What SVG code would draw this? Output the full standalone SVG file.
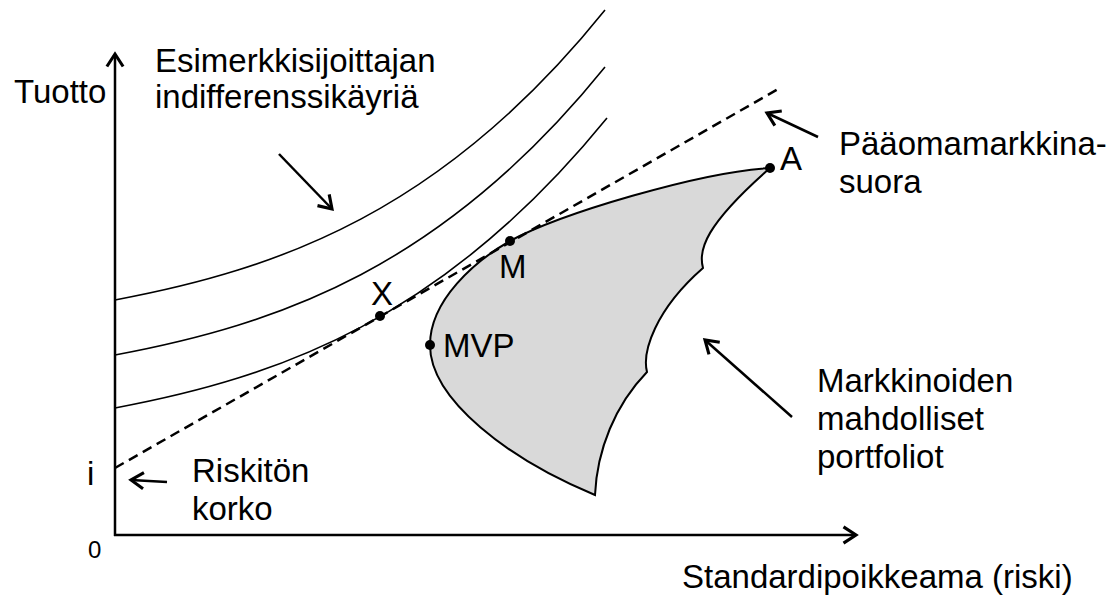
<svg xmlns="http://www.w3.org/2000/svg" width="1117" height="597" viewBox="0 0 1117 597">
<style>
text{font-family:"Liberation Sans",Arial,Helvetica,sans-serif;font-size:33px;fill:#000}
.ax{stroke:#000;stroke-width:2.5;fill:none}
.ptr{stroke:#000;stroke-width:2.5;fill:none}
.curve{stroke:#000;stroke-width:1.6;fill:none}
.cml{stroke:#000;stroke-width:2.5;fill:none;stroke-dasharray:10 6}
.dot{fill:#000}
</style>
<defs>
<marker id="arr" markerUnits="userSpaceOnUse" markerWidth="20" markerHeight="20" viewBox="-12 -8 14 16" refX="0" refY="0" orient="auto">
<path d="M-10,-6.5 L0,0 L-10,6.5" fill="none" stroke="#000" stroke-width="2.5" stroke-linejoin="miter"/>
</marker>
</defs>
<rect width="1117" height="597" fill="#fff"/>
<g id="region">
<path d="M770,168 C700,172 560,213.7 510,241 C475,261 430,300 430,345 C430,400 510,460 595,495 C597,450 615,405 647,372 C642,352 655,310 703,268 C698,250 705,225 770,168 Z" fill="#d9d9d9" stroke="#000" stroke-width="2"/>
</g>
<g id="curves">
<path id="ic1" class="curve" d="M115,300 C279,269.3 443,211.6 605,10"/>
<path id="ic2" class="curve" d="M115,355 C279,324.3 443,267.6 605,67"/>
<path id="ic3" class="curve" d="M115,408 C279,377.3 443,319.6 607,118"/>
</g>
<g id="cml">
<line class="cml" x1="115" y1="468" x2="780" y2="88"/>
</g>
<g id="axes">
<line id="yaxis" class="ax" x1="115" y1="536" x2="115" y2="54" marker-end="url(#arr)"/>
<line id="xaxis" class="ax" x1="114" y1="535" x2="856" y2="535" marker-end="url(#arr)"/>
</g>
<g id="points">
<g id="X"><circle class="dot" cx="380" cy="316" r="5"/><text x="371" y="305">X</text></g>
<g id="M"><circle class="dot" cx="510" cy="241" r="5"/><text x="499" y="278">M</text></g>
<g id="MVP"><circle class="dot" cx="430" cy="345" r="5"/><text x="443" y="357">MVP</text></g>
<g id="A"><circle class="dot" cx="770" cy="168" r="5"/><text x="780" y="170">A</text></g>
</g>
<g id="connectors">
<line class="ptr" x1="279" y1="154" x2="332" y2="209" marker-end="url(#arr)"/>
<line class="ptr" x1="818" y1="137" x2="767" y2="113" marker-end="url(#arr)"/>
<line class="ptr" x1="792" y1="417" x2="705" y2="340" marker-end="url(#arr)"/>
<line class="ptr" x1="167" y1="482" x2="131" y2="480" marker-end="url(#arr)"/>
</g>
<g id="labels">
<text x="14" y="103">Tuotto</text>
<text x="155" y="72">Esimerkkisijoittajan</text>
<text x="155" y="108">indifferenssikäyriä</text>
<text x="839" y="155">Pääomamarkkina-</text>
<text x="839" y="193">suora</text>
<text x="817" y="392">Markkinoiden</text>
<text x="817" y="430">mahdolliset</text>
<text x="817" y="468">portfoliot</text>
<text x="87" y="485">i</text>
<text x="192" y="482">Riskitön</text>
<text x="192" y="520">korko</text>
<text x="88" y="558" style="font-size:24px">0</text>
<text x="682" y="588">Standardipoikkeama (riski)</text>
</g>
</svg>
